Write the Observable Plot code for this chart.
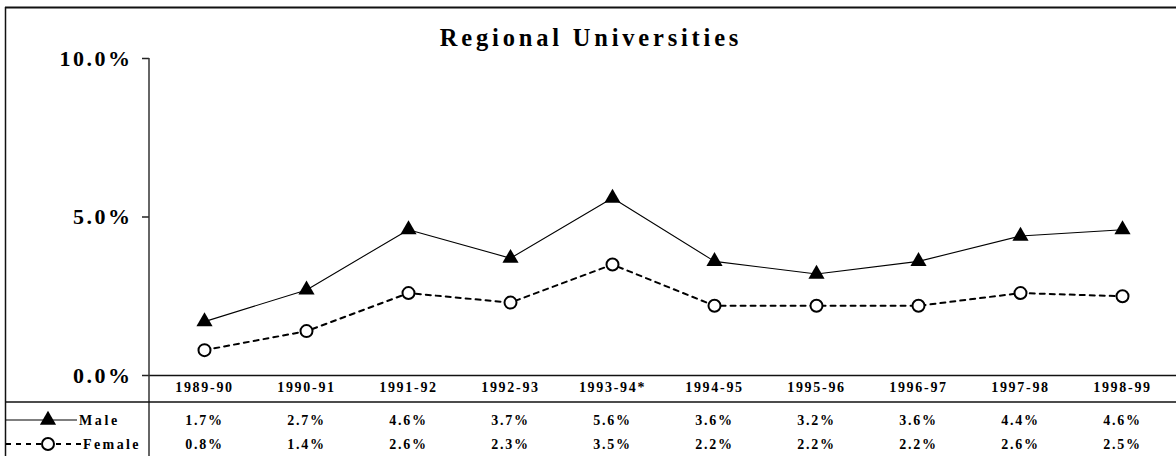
<!DOCTYPE html>
<html>
<head>
<meta charset="utf-8">
<script src="https://cdn.jsdelivr.net/npm/d3@7"></script>
<script src="https://cdn.jsdelivr.net/npm/@observablehq/plot@0.6"></script>
<style>
  html, body { margin: 0; padding: 0; background: #fff; }
  #chart svg { display: block; }
  #chart svg text { font-family: "Liberation Serif", "Times New Roman", serif; font-weight: bold; fill: #000; }
</style>
</head>
<body>
<div id="chart"></div>
<script>
const title = "Regional Universities";
const categories = ["1989-90", "1990-91", "1991-92", "1992-93", "1993-94*", "1994-95", "1995-96", "1996-97", "1997-98", "1998-99"];
const maleValues = [1.7, 2.7, 4.6, 3.7, 5.6, 3.6, 3.2, 3.6, 4.4, 4.6];
const femaleValues = [0.8, 1.4, 2.6, 2.3, 3.5, 2.2, 2.2, 2.2, 2.6, 2.5];
const yTicks = [0, 5, 10];
const seriesNames = ["Male", "Female"];

const male = categories.map((c, i) => ({cat: c, v: maleValues[i]}));
const female = categories.map((c, i) => ({cat: c, v: femaleValues[i]}));
const pct = v => v.toFixed(1) + "%";

const W = 1176, H = 456;
const plot = Plot.plot({
  width: W,
  height: H,
  marginLeft: 149,
  marginRight: 0,
  marginTop: 58,
  marginBottom: 81,
  x: {type: "point", domain: categories, padding: 0.5, axis: null},
  y: {domain: [0, 10], axis: null},
  marks: [
    Plot.axisY({ticks: yTicks, tickFormat: pct, tickSize: 7, tickPadding: 10, fontSize: 22, stroke: "#222", strokeWidth: 1.5, label: null}),
    Plot.ruleY([0], {stroke: "#111", strokeWidth: 1.5}),
    Plot.line(male, {x: "cat", y: "v", stroke: "#000", strokeWidth: 1.1}),
    Plot.line(female, {x: "cat", y: "v", stroke: "#000", strokeWidth: 2, strokeDasharray: "5,5"}),
    Plot.dot(male, {x: "cat", y: "v", symbol: "triangle", fill: "#000", r: 6}),
    Plot.dot(female, {x: "cat", y: "v", r: 6, fill: "#fff", stroke: "#000", strokeWidth: 2}),
    Plot.text(categories, {x: d => d, y: () => 0, dy: 12, fontSize: 14, lineAnchor: "middle"}),
    Plot.text(male, {x: "cat", y: () => 0, dy: 45, text: d => pct(d.v), fontSize: 14, lineAnchor: "middle"}),
    Plot.text(female, {x: "cat", y: () => 0, dy: 69, text: d => pct(d.v), fontSize: 14, lineAnchor: "middle"})
  ]
});

const svg = d3.select(plot);
svg.selectAll("text").style("letter-spacing", "1.7px");
svg.select("g[aria-label='y-axis tick label']").selectAll("text").style("letter-spacing", "2.5px");

// frame and table lines
const g = svg.append("g").attr("stroke", "#111").attr("fill", "none");
g.append("line").attr("x1", 5).attr("x2", W).attr("y1", 7.5).attr("y2", 7.5).attr("stroke-width", 2);
g.append("line").attr("x1", 5.5).attr("x2", 5.5).attr("y1", 7).attr("y2", H).attr("stroke-width", 1.5);
g.append("line").attr("x1", 149).attr("x2", 149).attr("y1", 58).attr("y2", H).attr("stroke-width", 1.5).attr("stroke", "#333");
g.append("line").attr("x1", 5).attr("x2", W).attr("y1", 402).attr("y2", 402).attr("stroke-width", 1.5);

// title
svg.append("text").attr("x", 591).attr("y", 46).attr("text-anchor", "middle")
  .style("font-size", "24.5px").style("letter-spacing", "3.8px").text(title);

// legend samples in the table
const lg = svg.append("g").attr("text-anchor", "start");
const rows = [{y: 420, name: seriesNames[0]}, {y: 444, name: seriesNames[1]}];
lg.append("line").attr("x1", 6).attr("x2", 77).attr("y1", 420).attr("y2", 420).attr("stroke", "#000").attr("stroke-width", 1.1);
lg.append("path").attr("d", d3.symbol(d3.symbolTriangle, Math.PI * 36)()).attr("transform", "translate(48,420)").attr("fill", "#000");
lg.append("line").attr("x1", 6).attr("x2", 82).attr("y1", 444).attr("y2", 444).attr("stroke", "#000").attr("stroke-width", 2).attr("stroke-dasharray", "5,5");
lg.append("circle").attr("cx", 48).attr("cy", 444).attr("r", 6).attr("fill", "#fff").attr("stroke", "#000").attr("stroke-width", 2);
lg.append("text").attr("x", 79).attr("y", 420).attr("dy", "0.35em").attr("text-anchor", "start").style("font-size", "14px").style("letter-spacing", "2.6px").text(rows[0].name);
lg.append("text").attr("x", 83).attr("y", 444).attr("dy", "0.35em").attr("text-anchor", "start").style("font-size", "14px").style("letter-spacing", "2.4px").text(rows[1].name);

document.getElementById("chart").appendChild(plot);
</script>
</body>
</html>
